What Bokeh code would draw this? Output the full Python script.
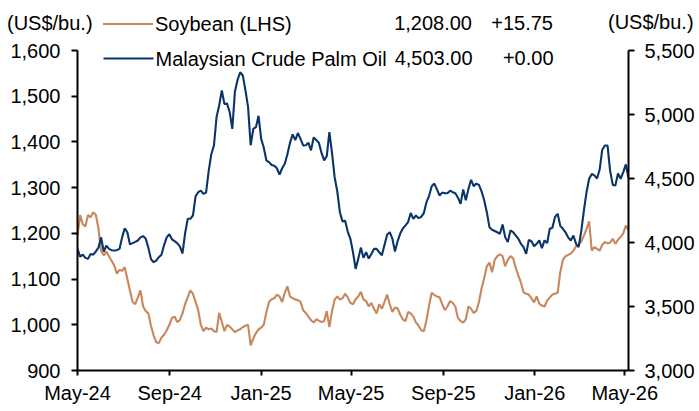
import pandas as pd
from bokeh.plotting import figure
from bokeh.layouts import column
from bokeh.models import (Range1d, LinearAxis, FixedTicker, NumeralTickFormatter,
                          DatetimeTickFormatter, Label, BoxAnnotation, Div)
from bokeh.embed import file_html
from bokeh.resources import INLINE

# ---------------- data (half-weekly readings) ----------------
start_date = "2024-05-01"
n_points = 211
step = "84h"
soybean = [1195, 1240, 1220, 1215, 1240, 1235, 1246, 1240, 1210, 1162,
           1152, 1160, 1150, 1140, 1130, 1112, 1120, 1118, 1126, 1100,
           1075, 1050, 1045, 1060, 1075, 1040, 1030, 1025, 998, 977,
           962, 960, 972, 978, 988, 1000, 1015, 1018, 1006, 1010,
           1025, 1045, 1060, 1075, 1068, 1050, 1032, 1000, 986, 994,
           990, 992, 986, 984, 1026, 1006, 986, 1000, 996, 990,
           984, 988, 990, 995, 998, 1000, 955, 970, 982, 990,
           994, 1000, 1028, 1050, 1056, 1058, 1066, 1062, 1050, 1070,
           1084, 1062, 1058, 1055, 1054, 1050, 1032, 1026, 1018, 1010,
           1005, 1012, 1009, 1006, 1008, 1030, 995, 1030, 1055, 1062,
           1055, 1058, 1068, 1060, 1048, 1045, 1056, 1062, 1072, 1055,
           1052, 1040, 1048, 1035, 1025, 1045, 1035, 1050, 1066, 1045,
           1028, 1038, 1036, 1022, 1012, 1008, 1028, 1025, 1018, 1005,
           998, 988, 986, 1010, 1042, 1070, 1065, 1062, 1060, 1045,
           1032, 1040, 1052, 1048, 1040, 1015, 1008, 1005, 1012, 1040,
           1035, 1026, 1030, 1050, 1080, 1102, 1128, 1136, 1115, 1142,
           1150, 1154, 1150, 1128, 1142, 1150, 1146, 1125, 1108, 1092,
           1071, 1068, 1066, 1058, 1049, 1062, 1046, 1042, 1040, 1053,
           1060, 1066, 1068, 1070, 1115, 1142, 1150, 1153, 1156, 1162,
           1172, 1176, 1182, 1195, 1210, 1226, 1162, 1170, 1166, 1162,
           1175, 1181, 1178, 1180, 1188, 1177, 1186, 1192, 1200, 1217,
           1208]
palm = [3951, 3890, 3905, 3880, 3872, 3911, 3905, 3930, 3960, 4040,
        3930, 3975, 3950, 3940, 3937, 3940, 3950, 4040, 4110, 4080,
        3985, 3995, 4005, 4016, 4040, 4050, 4030, 3960, 3870, 3846,
        3859, 3885, 3905, 3980, 4040, 4065, 4025, 4010, 3995, 3970,
        3914, 4070, 4185, 4185, 4211, 4360, 4393, 4406, 4380, 4390,
        4560, 4690, 4758, 4980, 5070, 5188, 5083, 5085, 5018, 4888,
        5180, 5270, 5330, 5305, 5190, 5060, 4760, 4888, 4901, 4990,
        4810, 4740, 4640, 4628, 4605, 4600, 4580, 4530, 4580, 4615,
        4690, 4780, 4845, 4800, 4855, 4810, 4758, 4760, 4780, 4720,
        4820, 4800, 4780, 4700, 4641, 4675, 4862, 4700, 4510, 4400,
        4237, 4165, 4170, 4085, 4029, 3924, 3794, 3872, 3960, 3880,
        3924, 3875, 3910, 3950, 3950, 3924, 3900, 3980, 4060, 4081,
        4030, 3930, 4010, 4070, 4110, 4133, 4160, 4230, 4185, 4211,
        4190, 4200, 4230, 4315, 4365, 4440, 4460, 4415, 4367, 4390,
        4385, 4385, 4405, 4393, 4385, 4350, 4302, 4415, 4330, 4419,
        4490, 4440, 4460, 4450, 4400, 4330, 4237, 4120, 4100, 4090,
        4080, 4068, 4140, 4042, 4003, 4094, 4081, 4055, 4030, 3990,
        3964, 3911, 4020, 4010, 3970, 3990, 4016, 3955, 4016, 3995,
        4107, 4115, 4200, 4224, 4130, 4107, 4080, 4040, 4016, 4055,
        3990, 3964, 4090, 4250, 4393, 4498, 4536, 4524, 4500, 4570,
        4725, 4758, 4758, 4560, 4450, 4445, 4540, 4498, 4550, 4610,
        4503]

x_tick_dates = ["2024-05-01", "2024-09-01", "2025-01-01", "2025-05-01",
                "2025-09-01", "2026-01-01", "2026-05-01"]
x_tick_labels = ["May-24", "Sep-24", "Jan-25", "May-25", "Sep-25", "Jan-26", "May-26"]
left_ticks = [900, 1000, 1100, 1200, 1300, 1400, 1500, 1600]
right_ticks = [3000, 3500, 4000, 4500, 5000, 5500]
unit_label = "(US$/bu.)"
legend_names = ["Soybean (LHS)", "Malaysian Crude Palm Oil"]
legend_last = ["1,208.00", "4,503.00"]
legend_change = ["+15.75", "+0.00"]

# ---------------- styling ----------------
SOY_COLOR = "#C8875C"
PALM_COLOR = "#0B3468"
FONT = "Liberation Sans"
FS = "20px"
W, H, HEADER_H = 699, 411, 38

dates = pd.date_range(start_date, periods=n_points, freq=step)
tick_ms = [pd.Timestamp(d).timestamp() * 1000.0 for d in x_tick_dates]

# ---------------- header strip (unit titles and first legend row) -------
def span(style, text):
    return ('<span style="position:absolute;white-space:nowrap;line-height:20px;'
            + style + '">' + text + '</span>')

header_html = (
    f'<div style="position:relative;width:{W}px;height:{HEADER_H}px;'
    f'font-family:\'{FONT}\';font-size:{FS};color:black;overflow:hidden;">'
    + span("left:7px;top:13px;", unit_label)
    + span("left:608px;top:12px;", unit_label)
    + f'<div style="position:absolute;left:103px;top:23px;width:50px;height:2.2px;'
      f'background:{SOY_COLOR};"></div>'
    + span("left:155px;top:14px;", legend_names[0])
    + span(f"right:{W - 472}px;top:13px;", legend_last[0])
    + span(f"right:{W - 553}px;top:13px;", legend_change[0])
    + '</div>'
)
header = Div(text=header_html, width=W, height=HEADER_H, margin=0)

# ---------------- main chart ----------------
p = figure(width=W, height=H - HEADER_H, x_axis_type="datetime",
           x_range=Range1d(dates[0], dates[-1]),
           y_range=Range1d(900, 1600),
           output_backend="svg", toolbar_location=None,
           min_border_left=77, min_border_right=71,
           min_border_top=12, min_border_bottom=41)
p.extra_y_ranges = {"palm": Range1d(3000, 5500)}
p.outline_line_color = None
p.xgrid.visible = False
p.ygrid.visible = False

p.line(dates, soybean, line_color=SOY_COLOR, line_width=2.1)
p.line(dates, palm, line_color=PALM_COLOR, line_width=2.1, y_range_name="palm")

right_axis = LinearAxis(y_range_name="palm")
p.add_layout(right_axis, "right")


def style_axis(ax):
    ax.axis_line_color = "black"
    ax.axis_line_width = 2
    ax.major_tick_line_color = "black"
    ax.major_tick_line_width = 2
    ax.major_tick_in = 0
    ax.major_tick_out = 6
    ax.minor_tick_line_color = None
    ax.major_label_text_font = FONT
    ax.major_label_text_font_size = FS
    ax.major_label_text_color = "black"


xa = p.xaxis[0]
style_axis(xa)
xa.ticker = FixedTicker(ticks=tick_ms)
xa.formatter = DatetimeTickFormatter(days="%b-%y", months="%b-%y", years="%b-%y")
xa.major_label_overrides = {t: lab for t, lab in zip(tick_ms, x_tick_labels)}
xa.major_tick_out = 5
xa.major_label_standoff = 6

ya = p.yaxis[0]
style_axis(ya)
ya.ticker = FixedTicker(ticks=left_ticks)
ya.formatter = NumeralTickFormatter(format="0,0")
ya.major_label_standoff = 11

style_axis(right_axis)
right_axis.ticker = FixedTicker(ticks=right_ticks)
right_axis.formatter = NumeralTickFormatter(format="0,0")
right_axis.major_label_standoff = 10


def add_label(fig, x, y, text, align="left"):
    fig.add_layout(Label(x=x, y=y, x_units="screen", y_units="screen", text=text,
                         text_font=FONT, text_font_size=FS, text_color="black",
                         text_align=align, text_baseline="middle"))


# second legend row sits inside the plot frame (frame-relative screen units)
p.add_layout(BoxAnnotation(left=26, right=76, bottom=310.9, top=313.1,
                           left_units="screen", right_units="screen",
                           bottom_units="screen", top_units="screen",
                           fill_color=PALM_COLOR, fill_alpha=1.0, line_color=None))
add_label(p, 78, 312, legend_names[1])
add_label(p, 395, 313, legend_last[1], "right")
add_label(p, 476, 313, legend_change[1], "right")

layout = column(header, p, spacing=0)
open("out.html", "w").write(file_html(layout, INLINE))
